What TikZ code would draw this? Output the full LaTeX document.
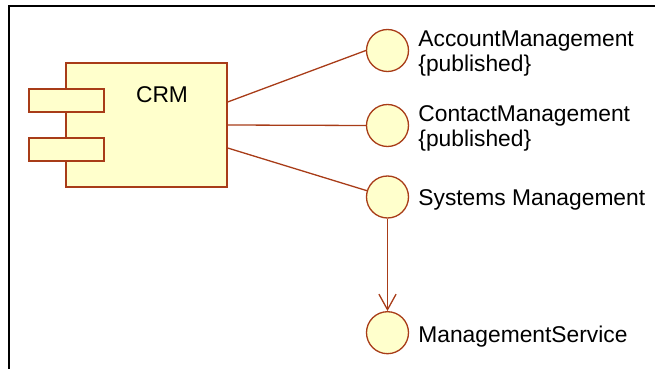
\documentclass[tikz,border=0pt]{standalone}
\usepackage{fontspec}
\setmainfont{Liberation Sans}
\usetikzlibrary{arrows.meta}
\definecolor{umlline}{RGB}{168,60,24}
\definecolor{umlfill}{RGB}{255,255,204}

\begin{document}
\begin{tikzpicture}[x=0.5pt,y=-0.5pt,
  comp/.style={draw=umlline,fill=umlfill,line width=0.65pt,inner sep=0pt},
  iface/.style={circle,draw=umlline,fill=umlfill,line width=0.65pt,minimum size=21pt,inner sep=0pt},
  lbl/.style={anchor=west,align=left,inner sep=0pt,font=\fontsize{11.4}{12.5}\selectfont},
  conn/.style={draw=umlline,line width=0.65pt}]
\useasboundingbox (0,0) rectangle (655,369);
\draw[line width=1pt] (9,369) -- (9,6) -- (655,6);
% component
\node[comp,minimum width=80.5pt,minimum height=62pt] (crm) at (146.5,125) {};
\node[comp,minimum width=37.5pt,minimum height=11.5pt] (port1) at (66.5,100.5) {};
\node[comp,minimum width=37.5pt,minimum height=11.5pt] (port2) at (66.5,149.5) {};
\node[inner sep=0pt,font=\fontsize{11.4}{12.5}\selectfont] (crmname) at (162,95) {CRM};
% interfaces
\node[iface] (acct) at (387.5,50.5) {};
\node[iface] (contact) at (387.5,125.5) {};
\node[iface] (sysmgmt) at (387.5,197) {};
\node[iface] (mgmtsvc) at (387.5,332.7) {};
\node[lbl] (acctname) at (418,53.4) {AccountManagement\\\{published\}};
\node[lbl] (contactname) at (418,128.4) {ContactManagement\\\{published\}};
\node[lbl] (sysmgmtname) at (418,199.5) {Systems Management};
\node[lbl] (mgmtsvcname) at (418,336.7) {ManagementService};
% connectors
\draw[conn] ([yshift=11.5pt]crm.east) -- (acct.west);
\draw[conn] (crm.east) -- (contact.west);
\draw[conn] ([yshift=-11.5pt]crm.east) -- (sysmgmt);
\draw[conn,-{Straight Barb[length=7.8pt,width=8.6pt]}] (sysmgmt) -- (mgmtsvc);
\end{tikzpicture}
\end{document}
